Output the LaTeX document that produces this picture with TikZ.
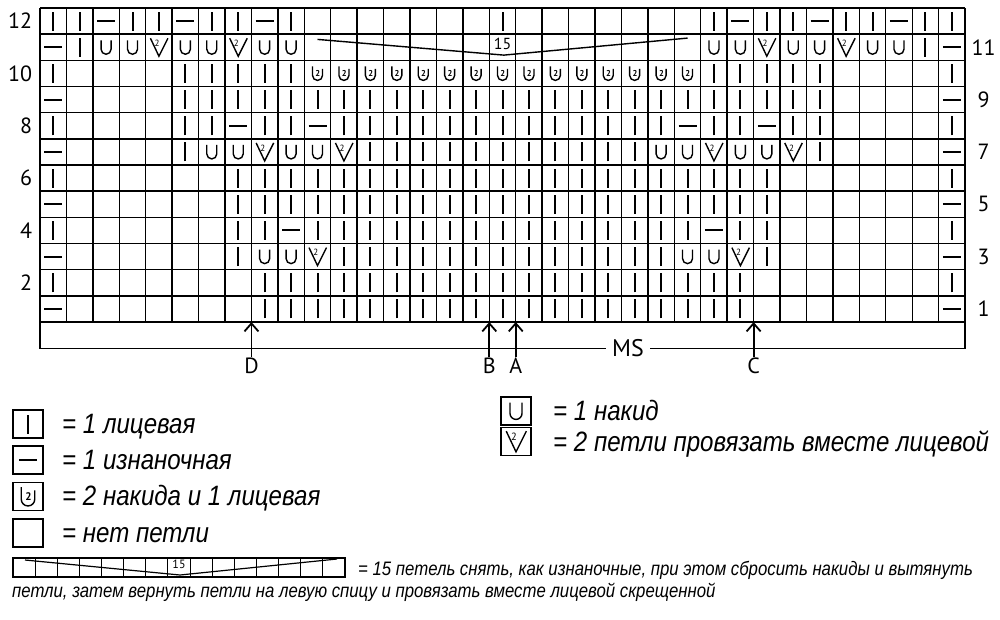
\documentclass[tikz,border=0pt]{standalone}
\usepackage{fontspec}
\setmainfont{PT Sans}
\newfontfamily\legendfont[FakeStretch=0.86]{Liberation Sans}
\usetikzlibrary{arrows.meta}
% stitch symbols: #1 name, #2 cell centre
\newcommand{\knitst}[2]{\draw[symline] (#2) ++(0,-9.5pt) -- ++(0,19pt);}
\newcommand{\purlst}[2]{\draw[symline] (#2) ++(-9pt,0) -- ++(18pt,0);}
\newcommand{\yarnover}[2]{\draw[yoline] (#2) ++(-5pt,7pt) -- ++(0,-9pt) arc[start angle=180, end angle=360, radius=5pt] -- ++(0,9pt);}
\newcommand{\ktog}[2]{
\draw[yoline] (#2) ++(-8.5pt,9pt) -- ++(8.5pt,-18pt) -- ++(9pt,18pt);
\path (#2) ++(-1.8pt,4pt) node[smalldigit] (#1) {2};
}
\newcommand{\dblyo}[2]{
\draw[yoline] (#2) ++(-5pt,7pt) -- ++(0,-9pt) arc[start angle=180, end angle=360, radius=5pt] -- ++(0,6.5pt);
\path (#2) ++(0.3pt,-0.3pt) node[tinydigit] (#1) {2};
}
% one chart row: #1 row number, #2 list of first/last/symbol
\newcommand{\chartrow}[2]{
\foreach \a/\b/\s in {#2} {
\foreach \c in {\a,...,\b} { \s{s-#1-\c}{\c-0.5,12.5-#1} }
}
}

\begin{document}
\begin{tikzpicture}[x=1pt, y=-1pt,
% chart lines
gridline/.style={line width=1.4pt},
symline/.style={line width=2pt},
yoline/.style={line width=1.4pt},
% chart texts
rownum/.style={font=\fontsize{22}{22}\selectfont, inner sep=1pt},
marklabel/.style={font=\fontsize{22}{22}\selectfont, inner sep=1pt},
markarrow/.style={line width=1.8pt, -{Straight Barb[length=8pt,width=14pt]}},
smalldigit/.style={font=\fontsize{9}{9}\selectfont, inner sep=0pt},
tinydigit/.style={font=\bfseries\fontsize{8.5}{8.5}\selectfont, inner sep=0pt},
% legend
legbox/.style={draw, line width=1.3pt, minimum width=30pt, minimum height=28pt, inner sep=0pt},
legtext/.style={font=\legendfont\itshape\fontsize{28}{28}\selectfont, inner sep=0pt},
notetext/.style={font=\legendfont\itshape\fontsize{19.5}{19.5}\selectfont, inner sep=0pt}
]

\path[use as bounding box, fill=white] (0,0) rectangle (1000,619);

% chart, one unit = one cell
\begin{scope}[shift={(40,8)}, x=26.43pt, y=-26.17pt]

\foreach \c in {0,...,35} \draw[gridline] (\c,0) -- (\c,12);
\foreach \r in {0,...,12} \draw[gridline] (0,\r) -- (35,\r);
\draw[gridline] (0,12) -- (0,13) -- (35,13) -- (35,12);

% row numbers
\foreach \r in {2,4,...,12} \node[rownum, anchor=east] (row\r) at (-0.25,12.5-\r) {\r};
\foreach \r in {1,3,...,11} \node[rownum] (row\r) at (35.7,12.5-\r) {\r};

% stitches
\chartrow{1}{1/1/\purlst, 9/27/\knitst, 35/35/\purlst}
\chartrow{2}{1/1/\knitst, 9/27/\knitst, 35/35/\knitst}
\chartrow{3}{1/1/\purlst, 8/8/\knitst, 9/10/\yarnover, 11/11/\ktog, 12/24/\knitst, 25/26/\yarnover, 27/27/\ktog, 28/28/\knitst, 35/35/\purlst}
\chartrow{4}{1/1/\knitst, 8/9/\knitst, 10/10/\purlst, 11/25/\knitst, 26/26/\purlst, 27/28/\knitst, 35/35/\knitst}
\chartrow{5}{1/1/\purlst, 8/28/\knitst, 35/35/\purlst}
\chartrow{6}{1/1/\knitst, 8/28/\knitst, 35/35/\knitst}
\chartrow{7}{1/1/\purlst, 6/6/\knitst, 7/8/\yarnover, 9/9/\ktog, 10/11/\yarnover, 12/12/\ktog, 13/23/\knitst, 24/25/\yarnover, 26/26/\ktog, 27/28/\yarnover, 29/29/\ktog, 30/30/\knitst, 35/35/\purlst}
\chartrow{8}{1/1/\knitst, 6/7/\knitst, 8/8/\purlst, 9/10/\knitst, 11/11/\purlst, 12/24/\knitst, 25/25/\purlst, 26/27/\knitst, 28/28/\purlst, 29/30/\knitst, 35/35/\knitst}
\chartrow{9}{1/1/\purlst, 6/30/\knitst, 35/35/\purlst}
\chartrow{10}{1/1/\knitst, 6/10/\knitst, 11/25/\dblyo, 26/30/\knitst, 35/35/\knitst}
\chartrow{11}{1/1/\purlst, 2/2/\knitst, 3/4/\yarnover, 5/5/\ktog, 6/7/\yarnover, 8/8/\ktog, 9/10/\yarnover, 26/27/\yarnover, 28/28/\ktog, 29/30/\yarnover, 31/31/\ktog, 32/33/\yarnover, 34/34/\knitst, 35/35/\purlst}
\chartrow{12}{1/2/\knitst, 3/3/\purlst, 4/5/\knitst, 6/6/\purlst, 7/8/\knitst, 9/9/\purlst, 10/10/\knitst, 18/18/\knitst, 26/26/\knitst, 27/27/\purlst, 28/29/\knitst, 30/30/\purlst, 31/32/\knitst, 33/33/\purlst, 34/35/\knitst}

% 15 stitches together
\coordinate (decstart) at (10.5,1.2);
\coordinate (decmid) at (17.55,1.8);
\coordinate (decend) at (24.5,1.15);
\draw[yoline] (decstart) -- (decmid) -- (decend);
\node[font=\fontsize{16}{16}\selectfont, inner sep=0pt] (dec15) at (17.5,1.38) {15};

% markers
\node[fill=white, inner xsep=6pt, inner ysep=1pt, font=\fontsize{24}{24}\selectfont] (ms) at (22.25,13) {MS};
\foreach \m/\x in {D/8, B/17, A/18, C/27} {
\coordinate (mark\m) at (\x,12);
\node[marklabel, anchor=north] (lab\m) at (\x,13.33) {\m};
\draw[markarrow] (lab\m.north) -- (mark\m);
}
\end{scope}

% legend, left column
\node[legbox] (keyK) at (28,424) {};
\knitst{keyKs}{keyK}
\node[legtext, anchor=base west] (txtK) at (62,433) {= 1 лицевая};
\node[legbox] (keyP) at (28,460) {};
\purlst{keyPs}{keyP}
\node[legtext, anchor=base west] (txtP) at (62,469) {= 1 изнаночная};
\node[legbox] (keyW) at (28,496.5) {};
\begin{scope}[shift={(keyW)}, scale=1.35, tinydigit/.append style={font=\bfseries\fontsize{11}{11}\selectfont}]
\dblyo{keyWs}{0,0}
\end{scope}
\node[legtext, anchor=base west] (txtW) at (62,505) {= 2 накида и 1 лицевая};
\node[legbox] (keyN) at (28,533) {};
\node[legtext, anchor=base west] (txtN) at (62,542) {= нет петли};

% legend, right column
\node[legbox] (keyY) at (516,411) {};
\begin{scope}[shift={(keyY)}, scale=1.2]
\yarnover{keyYs}{0,0}
\end{scope}
\node[legtext, anchor=base west] (txtY) at (553,420) {= 1 накид};
\node[legbox] (keyV) at (516,441.5) {};
\begin{scope}[shift={(keyV)}, scale=1.15, smalldigit/.append style={font=\fontsize{10.5}{10.5}\selectfont}]
\ktog{keyVs}{0,0}
\end{scope}
\node[legtext, anchor=base west] (txtV) at (553,451) {= 2 петли провязать вместе лицевой};

% legend, 15 stitches
\draw[gridline] (13,558) rectangle (345,577);
\foreach \i in {1,...,14} \draw[line width=1pt] (13+\i*22.13,558) -- (13+\i*22.13,577);
\draw[line width=1.2pt] (25,560) -- (180,575) -- (337,559);
\node[font=\fontsize{12}{12}\selectfont, inner sep=0pt] (key15) at (179,564) {15};
\node[notetext, anchor=base west] (note1) at (358,575) {= 15 петель снять, как изнаночные, при этом сбросить накиды и вытянуть};
\node[notetext, anchor=base west] (note2) at (12,597) {петли, затем вернуть петли на левую спицу и провязать вместе лицевой скрещенной};

\end{tikzpicture}
\end{document}
